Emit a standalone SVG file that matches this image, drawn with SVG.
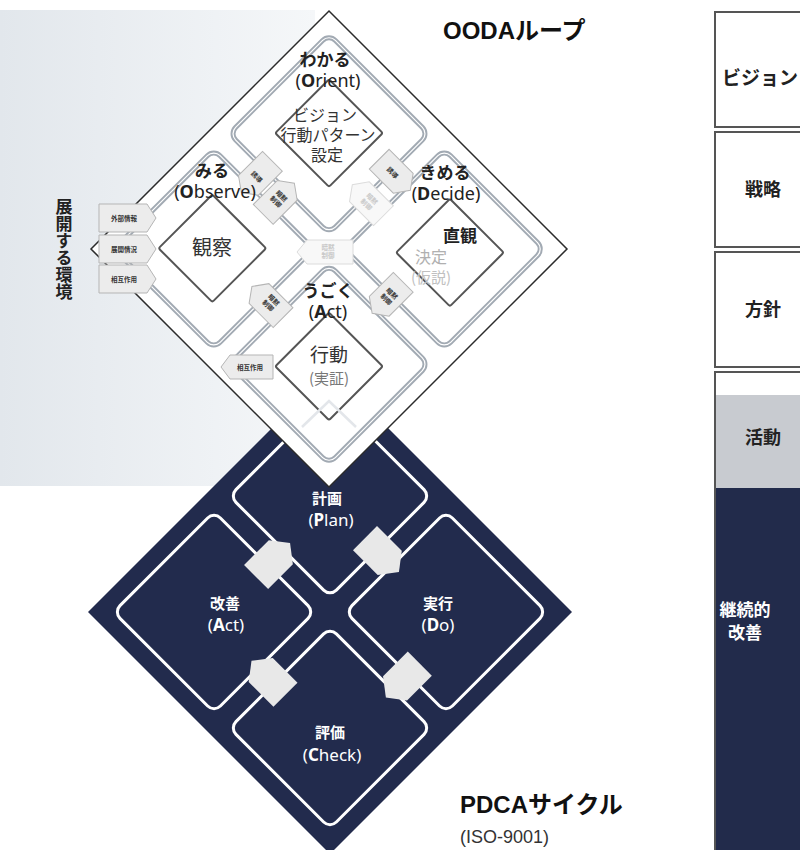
<svg xmlns="http://www.w3.org/2000/svg" width="800" height="850" viewBox="0 0 800 850">
<defs>
<linearGradient id="bg" x1="0" y1="0" x2="1" y2="0"><stop offset="0" stop-color="#e2e7ec"/><stop offset="1" stop-color="#f5f7f9"/></linearGradient>
<path id="pent" d="M-22,-14 H12 L22,0 L12,14 H-22 Z"/>
<path id="ppent" d="M-24,-17 H11 L24,0 L11,17 H-24 Z"/>
</defs>
<style>
.q{fill:#fff;stroke:#a2aab3;stroke-width:5}
.q2{fill:none;stroke:#fff;stroke-width:1.2}
.ib{fill:#fff;stroke:#555;stroke-width:2}
.ab{fill:#ececec;stroke:#b5b5b5;stroke-width:1}
.abf{fill:#f8f8f8;stroke:#dcdcdc;stroke-width:1}
.pq{fill:none;stroke:#fff;stroke-width:3}
.pab{fill:#e8e8e8}
.jp{font-family:"Noto Sans CJK JP",sans-serif}
.lbl{font-family:"Noto Sans CJK JP",sans-serif;font-weight:bold;font-size:17px;fill:#222;text-anchor:middle}
.en{font-family:"Noto Sans","Noto Sans CJK JP",sans-serif;font-size:18px;font-weight:normal;fill:#222}
.in{font-family:"Noto Sans CJK JP",sans-serif;font-size:16px;fill:#333;text-anchor:middle}
.tiny{font-family:"Noto Sans CJK JP",sans-serif;font-size:6.5px;font-weight:bold;fill:#333;text-anchor:middle}
.tinyf{font-family:"Noto Sans CJK JP",sans-serif;font-size:6.5px;font-weight:bold;fill:#c8c8c8;text-anchor:middle}
.wl{font-family:"Noto Sans CJK JP",sans-serif;font-weight:bold;font-size:15px;fill:#fff;text-anchor:middle}
.wen{font-family:"Noto Sans","Noto Sans CJK JP",sans-serif;font-size:17px;font-weight:normal;fill:#fff}
.col{fill:#fff;stroke:#555;stroke-width:2}
.ct{font-family:"Noto Sans CJK JP",sans-serif;font-weight:bold;font-size:18px;fill:#222;text-anchor:middle}
.title{font-family:"Liberation Sans","Noto Sans CJK JP",sans-serif;font-weight:bold;font-size:24px;fill:#111}
</style>
<rect width="800" height="850" fill="#fff"/>
<rect x="0" y="10" width="315" height="476" fill="url(#bg)"/>

<g id="pdca">
<polygon points="330,370 572,612 330,854 88,612" fill="#222b4d"/>
<g transform="translate(330,612) rotate(45)">
<rect x="-153" y="-153" width="142" height="142" rx="9" class="pq"/>
<rect x="11" y="-153" width="142" height="142" rx="9" class="pq"/>
<rect x="-153" y="11" width="142" height="142" rx="9" class="pq"/>
<rect x="11" y="11" width="142" height="142" rx="9" class="pq"/>
<use href="#ppent" class="pab" transform="translate(-77,3.5) rotate(-90)"/>
<use href="#ppent" class="pab" transform="translate(-3.5,-77) rotate(0)"/>
<use href="#ppent" class="pab" transform="translate(100,-3) rotate(90)"/>
<use href="#ppent" class="pab" transform="translate(3,90) rotate(180)"/>
</g>
</g>

<g id="ooda">
<polygon points="329,11 567,249 329,487 91,249" fill="#fff" stroke="#2b2b2b" stroke-width="1.5"/>
<g transform="translate(329,249) rotate(45)">
<rect x="-152" y="-152" width="141" height="141" rx="9" class="q"/>
<rect x="11" y="-152" width="141" height="141" rx="9" class="q"/>
<rect x="-152" y="11" width="141" height="141" rx="9" class="q"/>
<rect x="11" y="11" width="141" height="141" rx="9" class="q"/>
<rect x="-152" y="-152" width="141" height="141" rx="9" class="q2"/>
<rect x="11" y="-152" width="141" height="141" rx="9" class="q2"/>
<rect x="-152" y="11" width="141" height="141" rx="9" class="q2"/>
<rect x="11" y="11" width="141" height="141" rx="9" class="q2"/>
<rect x="-120" y="-120" width="76" height="76" rx="2" class="ib"/>
<rect x="-121" y="44" width="76" height="76" rx="2" class="ib"/>
<rect x="50" y="-121" width="76" height="76" rx="2" class="ib"/>
<rect x="45" y="45" width="76" height="76" rx="2" class="ib"/>
</g>
<polyline points="302,427 329,401 356,427" fill="none" stroke="#e3e6ea" stroke-width="2.5"/>
</g>

<g id="connectors">
<g transform="translate(329,249) rotate(45)">
<use href="#pent" class="ab" transform="translate(-102,0) rotate(90)"/>
<text class="tiny" x="-102" y="2.5">誘導</text>
<use href="#pent" class="ab" transform="translate(-71,0) rotate(-90)"/>
<text class="tiny" x="-71" y="-1.5">暗黙<tspan x="-71" dy="8">制御</tspan></text>
<use href="#pent" class="ab" transform="translate(-6,-99)"/>
<text class="tiny" x="-9" y="2.5" transform="translate(0,-99)">誘導</text>
<use href="#pent" class="abf" transform="translate(-7,-62) rotate(180)"/>
<text class="tinyf" x="-5" y="-63.5">暗黙<tspan x="-5" dy="8">制御</tspan></text>
<use href="#pent" class="ab" transform="translate(-6,81) rotate(180)"/>
<text class="tiny" x="-3" y="77.5">暗黙<tspan x="-3" dy="8">制御</tspan></text>
<use href="#pent" class="ab" transform="translate(76,-7) rotate(90)"/>
<text class="tiny" x="76" y="-10.5">暗黙<tspan x="76" dy="8">制御</tspan></text>
</g>
<path d="M297,252 L307,240 H353 V264 H307 Z" class="abf"/>
<text class="tinyf" x="328" y="249.5">暗黙<tspan x="328" dy="8">制御</tspan></text>
<path d="M221,367 L230,355 H273 V379 H230 Z" class="ab"/>
<text class="tiny" x="250" y="369.5">相互作用</text>
<path d="M99,204 H147 L156,218 L147,232 H99 Z" class="ab"/>
<text class="tiny" x="124" y="220.5">外部情報</text>
<path d="M99,235 H147 L156,249 L147,263 H99 Z" class="ab"/>
<text class="tiny" x="124" y="251.5">展開情況</text>
<path d="M99,265 H147 L156,279 L147,293 H99 Z" class="ab"/>
<text class="tiny" x="124" y="281.5">相互作用</text>
</g>

<g id="ooda-labels">
<text class="lbl" x="325" y="66">わかる<tspan class="en" x="328" y="87">(<tspan font-weight="bold">O</tspan>rient)</tspan></text>
<text class="in" x="325" y="121">ビジョン<tspan x="328" y="141">行動パターン</tspan><tspan x="327" y="161">設定</tspan></text>
<text class="lbl" x="212" y="177">みる<tspan class="en" x="215" y="198">(<tspan font-weight="bold">O</tspan>bserve)</tspan></text>
<text class="in" x="212" y="255" style="font-size:20px">観察</text>
<text class="lbl" x="445" y="179">きめる<tspan class="en" x="446" y="200">(<tspan font-weight="bold">D</tspan>ecide)</tspan></text>
<text class="in" x="460" y="242" style="font-weight:bold;font-size:17px;fill:#222">直観</text>
<text class="in" x="431" y="263" style="fill:#b0b0b0">決定<tspan x="431" y="283" style="font-size:15px;fill:#c0c0c0">(仮説)</tspan></text>
<text class="lbl" x="328" y="297">うごく<tspan class="en" x="328" y="318">(<tspan font-weight="bold">A</tspan>ct)</tspan></text>
<text class="in" x="329" y="362" style="font-size:19px">行動<tspan x="329" y="384" style="font-size:15px;fill:#777">(実証)</tspan></text>
<text class="jp" x="64" y="198" style="font-size:17px;font-weight:bold;fill:#222;writing-mode:vertical-rl">展開する環境</text>
<text class="title" x="443" y="39">OODAループ</text>
</g>

<g id="pdca-labels">
<text class="wl" x="327" y="504">計画<tspan class="wen" x="331" y="526">(<tspan font-weight="bold">P</tspan>lan)</tspan></text>
<text class="wl" x="225" y="609">改善<tspan class="wen" x="226" y="631">(<tspan font-weight="bold">A</tspan>ct)</tspan></text>
<text class="wl" x="438" y="609">実行<tspan class="wen" x="438" y="631">(<tspan font-weight="bold">D</tspan>o)</tspan></text>
<text class="wl" x="330" y="738">評価<tspan class="wen" x="332" y="761">(<tspan font-weight="bold">C</tspan>heck)</tspan></text>
<text class="title" x="460" y="813">PDCAサイクル</text>
<text x="460" y="843" style="font-family:'Liberation Sans',sans-serif;font-size:18px;fill:#333">(ISO-9001)</text>
</g>

<g id="column">
<rect x="715" y="12" width="100" height="115" class="col"/>
<rect x="715" y="132" width="100" height="115" class="col"/>
<rect x="715" y="252" width="100" height="115" class="col"/>
<rect x="715" y="372" width="100" height="490" class="col"/>
<rect x="716" y="395" width="99" height="93" fill="#c8cbd0"/>
<rect x="716" y="488" width="99" height="370" fill="#222b4b"/>
<text class="ct" x="722" y="85" style="text-anchor:start;font-size:19px">ビジョン</text>
<text class="ct" x="763" y="196">戦略</text>
<text class="ct" x="763" y="316">方針</text>
<text class="ct" x="763" y="444">活動</text>
<text class="ct" x="745" y="616" style="fill:#fff;font-size:17px">継続的<tspan x="745" y="639">改善</tspan></text>
</g>
</svg>
